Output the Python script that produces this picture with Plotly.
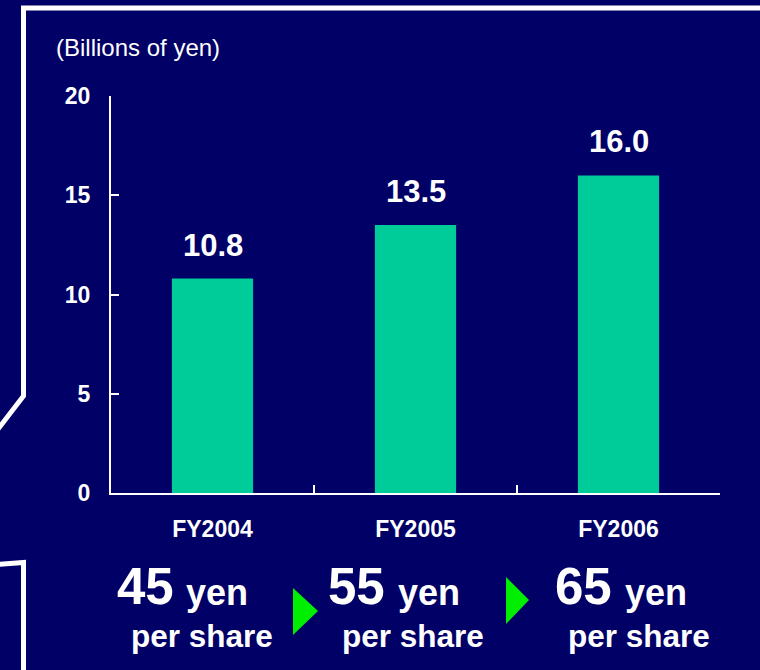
import plotly.graph_objects as go

# Dividend totals by fiscal year (billions of yen) and the per-share dividend
categories = ["FY2004", "FY2005", "FY2006"]
values = [10.8, 13.5, 16.0]
dividends = [45, 55, 65]
y_ticks = [0, 5, 10, 15, 20]

BG = "#000066"
BAR = "#00cc99"
ARROW = "#00ee00"
FONT = "Arial, 'Liberation Sans', sans-serif"

W, H = 760, 670
L, R, T, B = 111, 720, 96, 493  # plot-area edges in pixels


def px(x):
    return (x - L) / (R - L)


def py(y):
    return (B - y) / (B - T)


def path(points, close=False):
    s = "M " + " L ".join(f"{px(x):.5f},{py(y):.5f}" for x, y in points)
    return s + (" Z" if close else "")


fig = go.Figure(
    go.Bar(
        x=categories,
        y=values,
        width=0.4,
        marker=dict(color=BAR, line_width=0),
        hoverinfo="skip",
    )
)

# value labels above each bar
for c, v in zip(categories, values):
    fig.add_annotation(
        x=c, y=v, xref="x", yref="y",
        text=f"<b>{v:.1f}</b>",
        showarrow=False, yanchor="bottom", yshift=14,
        font=dict(size=31, color="white", family=FONT),
    )

# unit caption
fig.add_annotation(
    x=px(54), y=py(48), xref="paper", yref="paper",
    text="(Billions of yen)", showarrow=False,
    xanchor="left", yanchor="middle",
    font=dict(size=24, color="white", family=FONT),
)

# per-share dividend captions under each year
num_left = [115, 326, 553]
yen_left = [184, 396, 623]
share_left = [129, 340, 566]
for d, xn, xy, xs in zip(dividends, num_left, yen_left, share_left):
    fig.add_annotation(
        x=px(xn), y=py(586), xref="paper", yref="paper",
        text=f"<b>{d}</b>", showarrow=False,
        xanchor="left", yanchor="middle",
        font=dict(size=51, color="white", family=FONT),
    )
    fig.add_annotation(
        x=px(xy), y=py(592), xref="paper", yref="paper",
        text="<b>yen</b>", showarrow=False,
        xanchor="left", yanchor="middle",
        font=dict(size=36, color="white", family=FONT),
    )
    fig.add_annotation(
        x=px(xs), y=py(636), xref="paper", yref="paper",
        text="<b>per share</b>", showarrow=False,
        xanchor="left", yanchor="middle",
        font=dict(size=31.5, color="white", family=FONT),
    )

shapes = []
# green arrowheads between the dividend captions
for tri in [[(293, 588), (318, 611), (293, 635)], [(506, 577), (529, 600), (506, 624)]]:
    shapes.append(dict(
        type="path", xref="paper", yref="paper",
        path=path(tri, close=True),
        fillcolor=ARROW, line=dict(width=0), layer="above",
    ))

# white panel outline
frame_line = dict(color="white", width=5)
shapes.append(dict(
    type="path", xref="paper", yref="paper",
    path=path([(-5, 433), (23.5, 396), (23.5, 8), (775, 8)]),
    line=frame_line,
))
shapes.append(dict(
    type="path", xref="paper", yref="paper",
    path=path([(-5, 564.5), (23.5, 562.5), (23.5, 680)]),
    line=frame_line,
))

fig.update_layout(
    width=W, height=H,
    margin=dict(l=L, r=W - R, t=T, b=H - B, pad=0),
    paper_bgcolor=BG, plot_bgcolor=BG,
    showlegend=False,
    shapes=shapes,
    font=dict(family=FONT, color="white"),
    xaxis=dict(
        type="category",
        range=[-0.5, 2.5],
        showline=True, linecolor="white", linewidth=2,
        ticks="inside", tickson="boundaries", ticklen=8, tickwidth=2, tickcolor="white",
        showgrid=False, zeroline=False,
        tickfont=dict(size=23, color="white", family=FONT, weight="bold"),
        ticklabelstandoff=14,
        fixedrange=True,
    ),
    yaxis=dict(
        range=[0, 20],
        tickvals=y_ticks,
        showline=True, linecolor="white", linewidth=2,
        ticks="inside", ticklen=8, tickwidth=2, tickcolor="white",
        showgrid=False, zeroline=False,
        tickfont=dict(size=23, color="white", family=FONT, weight="bold"),
        ticklabelstandoff=14,
        fixedrange=True,
    ),
)

fig.write_html("out.html", config={"displayModeBar": False})
